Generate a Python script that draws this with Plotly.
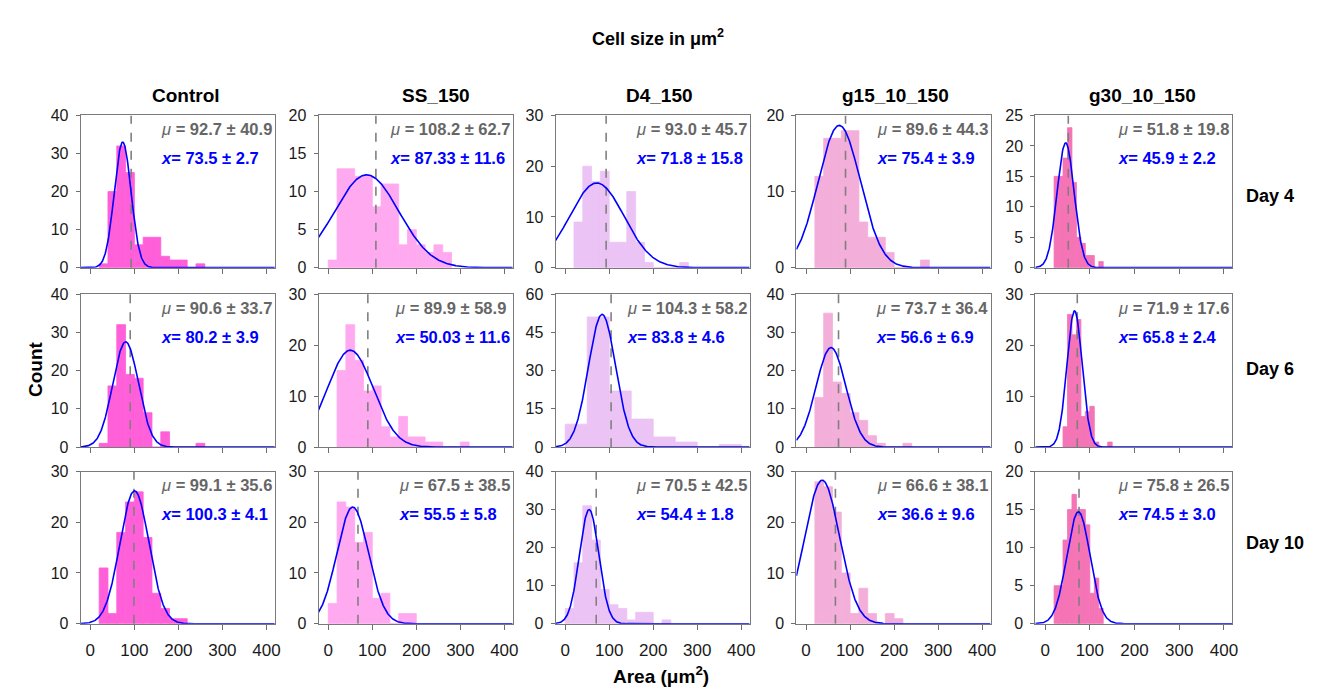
import numpy as np
import plotly.graph_objects as go

groups = ["Control", "SS_150", "D4_150", "g15_10_150", "g30_10_150"]
days = ["Day 4", "Day 6", "Day 10"]
group_colors = ["#ff5fd8", "#ffaaf0", "#ecc3f5", "#f3afda", "#f574b6"]

# ---- histogram data, panels in row-major order (day, group) ----
bin_start = [20, 0, 20, 20, 20,
             20, 20, 0, 20, 40,
             20, 0, 0, 20, 20]
bin_width = [20, 20, 20, 20, 10,
             20, 20, 50, 20, 10,
             20, 20, 20, 20, 10]

counts_d4_control = [1, 20, 32, 25, 6, 8, 8, 3, 2, 2, 0, 1]
counts_d4_ss = [1, 13, 13, 12, 12, 8, 11, 11, 3, 5, 3, 2, 3, 2]
counts_d4_d4 = [9, 20, 17, 19, 5, 5, 15, 5, 1, 0, 0, 0, 1]
counts_d4_g15 = [12, 17, 17, 18, 18, 6, 4, 4, 2, 0, 0, 0, 1]
counts_d4_g30 = [15, 15, 18, 23, 14, 5, 4, 2, 2, 0, 1]
counts_d6_control = [1, 16, 32, 19, 18, 9, 0, 4, 0, 0, 0, 1]
counts_d6_ss = [15, 24, 17, 11, 12, 4, 2, 6, 2, 2, 1, 1, 0, 0, 1]
counts_d6_d4 = [9, 51, 22, 11, 4, 2, 0, 1]
counts_d6_g15 = [13, 35, 17, 14, 9, 7, 3, 1, 0, 0, 1]
counts_d6_g30 = [4, 26, 22, 25, 6, 7, 8, 1, 0, 0, 1]
counts_d10_control = [11, 2, 18, 24, 26, 17, 6, 3, 1, 1]
counts_d10_ss = [4, 24, 23, 16, 18, 5, 6, 0, 2, 2]
counts_d10_d4 = [4, 16, 31, 22, 9, 5, 4, 1, 3, 3, 0, 1]
counts_d10_g15 = [28, 27, 22, 10, 2, 7, 2, 0, 2, 1]
counts_d10_g30 = [5, 5, 11, 15, 17, 15, 15, 13, 4, 6, 2]

counts = [counts_d4_control, counts_d4_ss, counts_d4_d4, counts_d4_g15, counts_d4_g30,
          counts_d6_control, counts_d6_ss, counts_d6_d4, counts_d6_g15, counts_d6_g30,
          counts_d10_control, counts_d10_ss, counts_d10_d4, counts_d10_g15, counts_d10_g30]

# mean ± sd (dashed line) and gaussian fit centre ± error
mu_mean = [92.7, 108.2, 93.0, 89.6, 51.8,
           90.6, 89.9, 104.3, 73.7, 71.9,
           99.1, 67.5, 70.5, 66.6, 75.8]
mu_sd = [40.9, 62.7, 45.7, 44.3, 19.8,
         33.7, 58.9, 58.2, 36.4, 17.6,
         35.6, 38.5, 42.5, 38.1, 26.5]
fit_center = [73.5, 87.33, 71.8, 75.4, 45.9,
              80.2, 50.03, 83.8, 56.6, 65.8,
              100.3, 55.5, 54.4, 36.6, 74.5]
fit_err = [2.7, 11.6, 15.8, 3.9, 2.2,
           3.9, 11.6, 4.6, 6.9, 2.4,
           4.1, 5.8, 1.8, 9.6, 3.0]
# gaussian amplitude and width
fit_amp = [33, 12.2, 16.7, 18.7, 20.5,
           27.5, 19, 52, 26, 26.7,
           26.2, 23, 30, 28.3, 14.7]
fit_sigma = [19, 73, 62, 48, 19,
             29, 52, 31, 34, 17,
             33, 36, 22, 39.5, 26]

y_max = [40, 20, 30, 20, 25,
         40, 30, 60, 40, 30,
         30, 30, 40, 30, 20]
y_step = [10, 5, 10, 10, 5,
          10, 10, 15, 10, 10,
          10, 10, 10, 10, 5]
x_ticks = [0, 100, 200, 300, 400]
x_range = [-22, 419]

# ---- layout geometry (pixels) ----
W, H = 1321, 693
cols_px = [(73, 268), (312, 507), (550, 745), (792, 987), (1032, 1230)]
rows_px = [(102, 258), (285, 442), (467, 623)]
FONT = "Liberation Sans, Arial, sans-serif"

fig = go.Figure()
layout = dict(
    width=W, height=H, autosize=False,
    margin=dict(l=0, r=0, t=0, b=0),
    paper_bgcolor="white", plot_bgcolor="white",
    showlegend=False, font=dict(family=FONT, color="#1a1a1a"),
    annotations=[],
)

xs = np.linspace(x_range[0], x_range[1], 500)

for i in range(15):
    r, c = divmod(i, 5)
    n = "" if i == 0 else str(i + 1)
    xa, ya = "x" + n, "y" + n
    bw = bin_width[i]
    centers = [bin_start[i] + bw * k + bw / 2 for k in range(len(counts[i]))]
    fig.add_trace(go.Bar(x=centers, y=counts[i], width=bw,
                         marker=dict(color=group_colors[c],
                                     line=dict(width=0.8, color=group_colors[c])),
                         xaxis=xa, yaxis=ya, hoverinfo="skip"))
    fig.add_trace(go.Scatter(x=[mu_mean[i], mu_mean[i]], y=[0, y_max[i]], mode="lines",
                             line=dict(color="#7f7f7f", width=1.6, dash="dash"),
                             xaxis=xa, yaxis=ya, hoverinfo="skip"))
    ys = fit_amp[i] * np.exp(-(xs - fit_center[i]) ** 2 / (2 * fit_sigma[i] ** 2))
    fig.add_trace(go.Scatter(x=xs, y=ys, mode="lines",
                             line=dict(color="#0000ff", width=1.6),
                             xaxis=xa, yaxis=ya, hoverinfo="skip", cliponaxis=False))

    x0, x1 = cols_px[c]
    y0, y1 = rows_px[r]
    layout["xaxis" + n] = dict(
        domain=[x0 / W, x1 / W], anchor=ya, range=x_range,
        tickvals=x_ticks, showticklabels=(r == 2), ticks="outside", ticklen=5,
        tickcolor="#6e6e6e", showline=True, linecolor="#7a7a7a", linewidth=1,
        mirror=True, showgrid=False, zeroline=False,
        tickfont=dict(size=17, family=FONT, color="#1a1a1a"),
        ticklabelstandoff=6,
    )
    layout["yaxis" + n] = dict(
        domain=[1 - y1 / H, 1 - y0 / H], anchor=xa, range=[0, y_max[i]],
        dtick=y_step[i], tick0=0, ticks="outside", ticklen=4,
        tickcolor="#6e6e6e", showline=True, linecolor="#7a7a7a", linewidth=1,
        mirror=True, showgrid=False, zeroline=False,
        tickfont=dict(size=16, family=FONT, color="#1a1a1a"),
        ticklabelstandoff=4,
    )
    ph = y1 - y0
    pw = x1 - x0
    txt = (f"<span style='font-size:16.5px;color:#666666'><i>μ</i><b> = {mu_mean[i]} ± {mu_sd[i]}</b></span>"
           f"<br><span style='font-size:16.5px;color:#0000ff'><b><i>x</i>= {fit_center[i]} ± {fit_err[i]}</b></span>")
    layout["annotations"].append(dict(
        text=txt, xref=xa + " domain", yref=ya + " domain",
        x=1 - 1 / pw, y=1 - 29 / ph, xanchor="right", yanchor="middle",
        align="left", showarrow=False, font=dict(size=22, family=FONT),
    ))

def ann(text, px, py, size, xanchor="center", angle=0):
    layout["annotations"].append(dict(
        text=text, xref="paper", yref="paper", x=px / W, y=1 - py / H,
        xanchor=xanchor, yanchor="middle", showarrow=False, textangle=angle,
        font=dict(size=size, family=FONT, color="#000000"),
    ))

ann("<b>Cell size in μm<sup>2</sup></b>", 653, 22, 18)
title_x = [179, 430, 654, 892, 1140]
for c, g in enumerate(groups):
    ann(f"<b>{g}</b>", title_x[c], 82, 19)
day_y = [185, 362, 540]
for r, d in enumerate(days):
    ann(f"<b>{d}</b>", 1242, day_y[r], 18, xanchor="left")
ann("<b>Count</b>", 27, 362, 19, angle=-90)
ann("<b>Area (μm<sup>2</sup>)</b>", 656, 676, 19)

fig.update_layout(**layout)
fig.write_html("out.html")
